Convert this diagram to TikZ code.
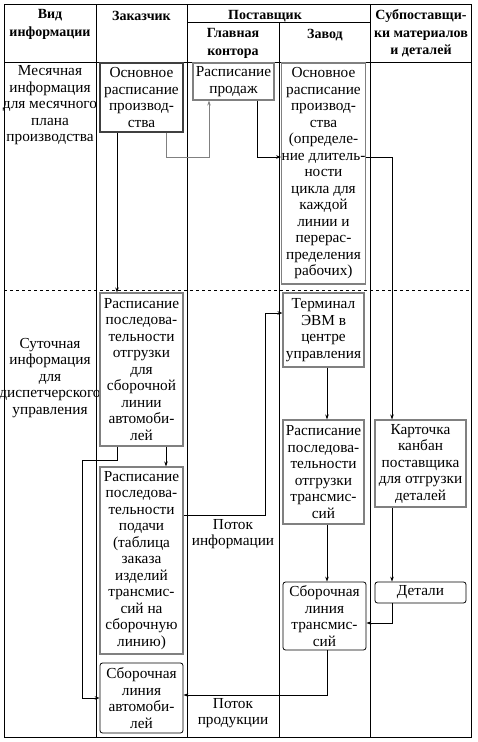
\documentclass[tikz,border=0pt]{standalone}
\usepackage{fontspec}
\setmainfont{Liberation Serif}
\usetikzlibrary{arrows.meta}

\begin{document}
\begin{tikzpicture}[x=1pt,y=-1pt,line width=0.7pt,>={Stealth[length=5pt,width=3.5pt]},
    font=\fontsize{15.3}{16.5}\selectfont,
    docbox/.style={draw=black!50,line width=1.1pt,inner sep=0pt,align=center,minimum width=81pt},
    thingbox/.style={draw,line width=0.8pt,rounded corners=2.5pt,inner sep=0pt,align=center,minimum width=83pt},
    headtxt/.style={font=\fontsize{14}{17.3}\selectfont\bfseries,align=center,inner sep=0pt},
    celltxt/.style={align=center,inner sep=0pt}]
  \useasboundingbox (0,0) rectangle (477,742);
  % table
  \draw[line width=0.9pt] (4,4) rectangle (471,737);
  \draw (96,4) -- (96,737);
  \draw (187,4) -- (187,737);
  \draw (279,22) -- (279,737);
  \draw (370,4) -- (370,737);
  \draw (187,22) -- (370,22);
  \draw (4,62) -- (471,62);
  \draw[dashed] (4,290) -- (471,290);
  % headings
  \node[headtxt] (hkind) at (50,24.5) {Вид\\информации};
  \node[headtxt] (hcust) at (141.5,16) {Заказчик};
  \node[headtxt] (hsupp) at (265,16) {Поставщик};
  \node[headtxt] (hoffice) at (233,43.5) {Главная\\контора};
  \node[headtxt] (hplant) at (325,35) {Завод};
  \node[headtxt] (hsub) at (421,33.5) {Субпоставщи-\\ки материалов\\и деталей};
  \node[celltxt] (rmonth) at (50,105.5) {Месячная\\информация\\для месячного\\плана\\производства};
  \node[celltxt] (rday) at (50,378) {Суточная\\информация\\для\\диспетчерского\\управления};
  % monthly boxes
  \node[docbox,draw=black!75,minimum width=83pt,minimum height=69pt] (cplan) at (141.5,97.5)
    {Основное\\расписание\\производ-\\ства};
  \node[docbox,minimum height=37pt] (sales) at (233.5,81.5) {Расписание\\продаж};
  \node[docbox,minimum height=221pt] (mplan) at (323.5,173.5)
    {Основное\\расписание\\производ-\\ства\\(определе-\\ние длитель-\\ности\\цикла для\\каждой\\линии и\\перерас-\\пределения\\рабочих)};
  % daily boxes
  \node[docbox,minimum width=83pt,minimum height=153pt] (cship) at (141.5,369.5)
    {Расписание\\последова-\\тельности\\отгрузки\\для\\сборочной\\линии\\автомоби-\\лей};
  \node[docbox,minimum width=83pt,minimum height=187pt] (cfeed) at (141.5,560.5)
    {Расписание\\последова-\\тельности\\подачи\\(таблица\\заказа\\изделий\\трансмис-\\сий на\\сборочную\\линию)};
  \node[thingbox,minimum height=70pt] (cline) at (141.5,698) {Сборочная\\линия\\автомоби-\\лей};
  \node[docbox,minimum height=74pt] (term) at (323.5,330) {Терминал\\ЭВМ в\\центре\\управления};
  \node[docbox,minimum height=104pt] (tship) at (323.5,472)
    {Расписание\\последова-\\тельности\\отгрузки\\трансмис-\\сий};
  \node[docbox,minimum width=91pt,minimum height=87pt] (kanban) at (420.5,463.5)
    {Карточка\\канбан\\поставщика\\для отгрузки\\деталей};
  \node[thingbox,minimum height=68pt] (tline) at (324.5,616) {Сборочная\\линия\\трансмис-\\сий};
  \node[thingbox,minimum width=91pt,minimum height=21pt] (parts) at (420.5,592.5) {Детали};
  \node[celltxt] (infoflow) at (233,534) {Поток\\информации};
  \node[celltxt] (prodflow) at (233,713) {Поток\\продукции};
  % flows
  \draw[->,gray] ([xshift=24.5pt]cplan.south) -- ++(0,25) -| ([xshift=-24.5pt]sales.south);
  \draw[->] ([xshift=23.5pt]sales.south) |- ([yshift=16.5pt]mplan.west);
  \draw[->] ([yshift=16pt]mplan.east) -| ([xshift=-28.5pt]kanban.north);
  \draw[->] ([xshift=-24.5pt]cplan.south) -- ([xshift=-24.5pt]cship.north);
  \draw[->] ([xshift=24.5pt]cship.south) -- ([xshift=24.5pt]cfeed.north);
  \draw[->] ([xshift=-24.5pt]cship.south) -- ++(0,14) -| ([xshift=-17pt]cline.west) -- (cline.west);
  \draw[->] ([yshift=45.5pt]cfeed.east) -- ++(82,0) |- ([yshift=17pt]term.west);
  \draw[->] ([xshift=3.5pt]term.south) -- ([xshift=3.5pt]tship.north);
  \draw[->] ([xshift=3.5pt]tship.south) -- ([xshift=2.5pt]tline.north);
  \draw[->] ([xshift=-28.5pt]kanban.south) -- ([xshift=-28.5pt]parts.north);
  \draw[->] ([xshift=-28.5pt]parts.south) |- ([yshift=-7pt]tline.east);
  \draw[->] ([xshift=2.5pt]tline.south) |- ([yshift=3pt]cline.east);
\end{tikzpicture}
\end{document}
